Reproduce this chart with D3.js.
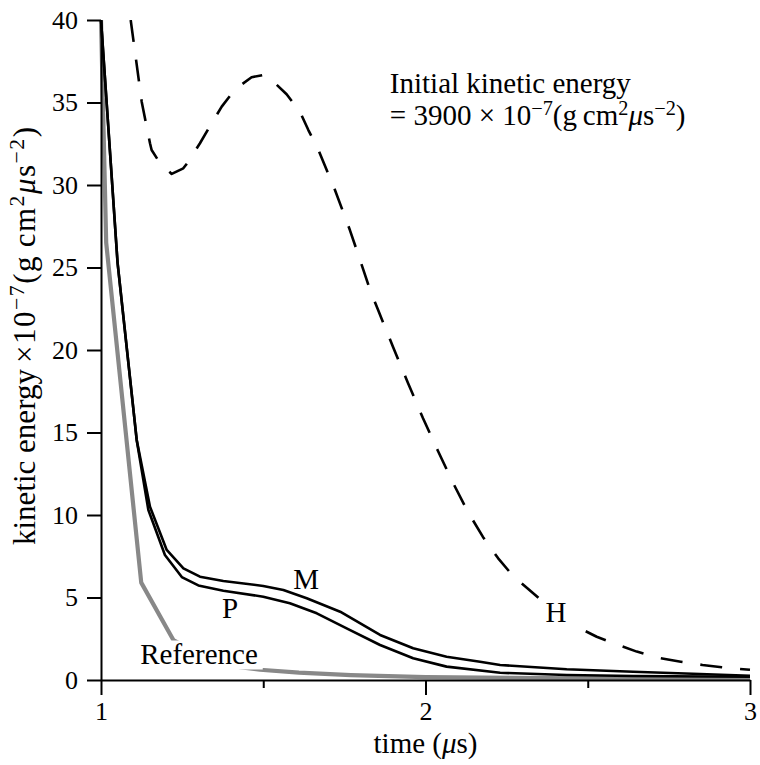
<!DOCTYPE html>
<html>
<head>
<meta charset="utf-8">
<script src="https://cdn.jsdelivr.net/npm/d3@7"></script>
<style>
  html, body { margin: 0; padding: 0; background: #fff; }
  svg { display: block; }
  text { font-family: "Liberation Serif", "DejaVu Serif", serif; fill: #000; }
</style>
</head>
<body>
<svg id="chart" width="760" height="765"></svg>
<script>
// ---- data (time in µs, kinetic energy ×1e-7) ----
const seriesH = [
  [1.0915, 40.0], [1.1254, 35.05], [1.151, 32.53], [1.156, 32.12], [1.182, 31.32],
  [1.218, 30.67], [1.2536, 31.01], [1.269, 31.41], [1.305, 32.53], [1.341, 33.74],
  [1.372, 34.75], [1.413, 35.8], [1.464, 36.53], [1.5, 36.67], [1.526, 36.36],
  [1.572, 35.5], [1.613, 34.44], [1.639, 33.33], [1.67, 32.12], [1.6955, 30.91],
  [1.721, 29.7], [1.767, 27.27], [1.808, 24.89], [1.829, 23.64], [1.854, 22.42],
  [1.90, 20.18], [1.946, 18.0], [1.992, 15.88], [2.0385, 13.88], [2.085, 11.94],
  [2.131, 10.18], [2.177, 8.67], [2.2234, 7.39], [2.27, 6.30], [2.313, 5.58],
  [2.359, 4.79], [2.4453, 3.53], [2.476, 3.13], [2.5276, 2.62], [2.594, 2.12],
  [2.651, 1.72], [2.723, 1.32], [2.7866, 1.11], [2.8536, 0.91], [2.913, 0.77],
  [2.979, 0.65], [3.0, 0.62]
];
const seriesM = [
  [1.0, 40], [1.051, 25.3], [1.11, 14.55], [1.151, 10.5], [1.2025, 7.88],
  [1.254, 6.77], [1.305, 6.26], [1.377, 6.0], [1.5, 5.7], [1.562, 5.45],
  [1.634, 4.95], [1.737, 4.14], [1.86, 2.73], [1.962, 1.92], [2.065, 1.41],
  [2.168, 1.11], [2.23, 0.91], [2.435, 0.65], [2.64, 0.50], [2.846, 0.36], [3.0, 0.26]
];
const seriesP = [
  [1.0, 40], [1.051, 25.3], [1.11, 14.55], [1.146, 10.3], [1.197, 7.58],
  [1.249, 6.24], [1.30, 5.73], [1.377, 5.41], [1.5, 5.05], [1.582, 4.65],
  [1.665, 4.04], [1.757, 3.13], [1.86, 2.12], [1.962, 1.32], [2.065, 0.81],
  [2.23, 0.44], [2.435, 0.30], [2.64, 0.24], [3.0, 0.2]
];
const seriesRef = [
  [1.0, 40], [1.016, 26.5], [1.124, 5.9], [1.223, 2.42], [1.32, 1.35],
  [1.428, 0.78], [1.49, 0.62], [1.61, 0.45], [1.77, 0.3], [2.0, 0.17],
  [2.5, 0.1], [3.0, 0.08]
];
const yTicks = [0, 5, 10, 15, 20, 25, 30, 35, 40];
const xTicks = [1, 2, 3];
const xMinorTicks = [1.5, 2.5];
const curveLabels = [
  { text: "M", t: 1.632, v: 5.5, bg: false },
  { text: "P", t: 1.3975, v: 3.75, bg: false },
  { text: "Reference", t: 1.302, v: 1.0, bg: true },
  { text: "H", t: 2.402, v: 3.5, bg: true }
];

// ---- layout ----
const svg = d3.select("#chart");
const x = d3.scaleLinear().domain([1, 3]).range([101, 750]);
const y = d3.scaleLinear().domain([0, 40]).range([680, 20]);
const FS = 29;      // annotation / title text
const TFS = 26;     // tick labels

svg.append("defs").append("clipPath").attr("id", "plotclip")
  .append("rect").attr("x", x(1) - 3).attr("y", y(40)).attr("width", x(3) - x(1) + 6).attr("height", y(0) - y(40));

const line = d3.line().x(d => x(d[0])).y(d => y(d[1])).curve(d3.curveLinear);
const plot = svg.append("g").attr("clip-path", "url(#plotclip)");

plot.append("path").datum(seriesRef).attr("d", line)
  .attr("fill", "none").attr("stroke", "#888").attr("stroke-width", 4.2).attr("stroke-linejoin", "round");
plot.append("path").datum(seriesH).attr("d", line)
  .attr("fill", "none").attr("stroke", "#000").attr("stroke-width", 2.6)
  .attr("stroke-dasharray", "22,18").attr("stroke-linejoin", "round");
plot.append("path").datum(seriesP).attr("d", line)
  .attr("fill", "none").attr("stroke", "#000").attr("stroke-width", 2.6).attr("stroke-linejoin", "round");
plot.append("path").datum(seriesM).attr("d", line)
  .attr("fill", "none").attr("stroke", "#000").attr("stroke-width", 2.6).attr("stroke-linejoin", "round");

// ---- curve labels ----
curveLabels.forEach(l => {
  const g = svg.append("g");
  const t = g.append("text").attr("x", x(l.t)).attr("y", y(l.v))
    .attr("text-anchor", "middle").attr("font-size", FS).text(l.text);
  if (l.bg) {
    const b = t.node().getBBox();
    g.insert("rect", "text").attr("x", b.x - 5).attr("y", b.y + 3)
      .attr("width", b.width + 10).attr("height", b.height - 3).attr("fill", "#fff");
  }
});

// ---- axes ----
const yAxis = d3.axisLeft(y).tickValues(yTicks).tickSize(14).tickSizeOuter(0).tickPadding(9).tickFormat(d3.format("d"));
const gy = svg.append("g").attr("transform", `translate(${x(1)},0)`).call(yAxis);

const xAxis = d3.axisBottom(x).tickValues(xTicks).tickSize(15).tickSizeOuter(0).tickPadding(7).tickFormat(d3.format("d"));
const gx = svg.append("g").attr("transform", `translate(0,${y(0)})`).call(xAxis);

const xMinor = d3.axisBottom(x).tickValues(xMinorTicks).tickSize(8).tickSizeOuter(0).tickFormat("");
const gxm = svg.append("g").attr("transform", `translate(0,${y(0)})`).call(xMinor);
gxm.select(".domain").remove();

[gy, gx, gxm].forEach(g => {
  g.attr("font-family", null).attr("font-size", null);
  g.selectAll("text").attr("font-size", TFS);
  g.selectAll("line").attr("stroke", "#000").attr("stroke-width", 2);
  g.selectAll(".domain").attr("stroke", "#000").attr("stroke-width", 2);
});

// ---- axis titles ----
const xt = svg.append("text").attr("x", x(2)).attr("y", 753)
  .attr("text-anchor", "middle").attr("font-size", FS);
xt.append("tspan").text("time (");
xt.append("tspan").attr("font-style", "italic").text("μ");
xt.append("tspan").text("s)");

function unitsText(sel, prefix, fs) {
  const sup = fs * 0.7, up = fs * 0.35;
  sel.append("tspan").text(prefix);
  sel.append("tspan").attr("font-size", sup).attr("dy", -up).text("−7");
  sel.append("tspan").attr("dy", up).text("(g\u2009cm");
  sel.append("tspan").attr("font-size", sup).attr("dy", -up).text("2");
  sel.append("tspan").attr("dy", up).attr("font-style", "italic").text("μ");
  sel.append("tspan").text("s");
  sel.append("tspan").attr("font-size", sup).attr("dy", -up).text("−2");
  sel.append("tspan").attr("dy", up).text(")");
}

// y title
const YFS = 31;
const yt = svg.append("text").attr("transform", "translate(35,545) rotate(-90)")
  .attr("text-anchor", "start").attr("font-size", YFS);
yt.append("tspan").text("kinetic energy\u2009");
const ytUnits = yt.append("tspan").attr("letter-spacing", 1.5);
unitsText(ytUnits, "×10", YFS);

// ---- annotation ----
svg.append("text").attr("x", x(1.89)).attr("y", y(35.58)).attr("font-size", FS)
  .text("Initial kinetic energy");
const ann = svg.append("text").attr("x", x(1.89)).attr("y", y(33.64)).attr("font-size", FS);
unitsText(ann, "= 3900 × 10", FS);
</script>
</body>
</html>
